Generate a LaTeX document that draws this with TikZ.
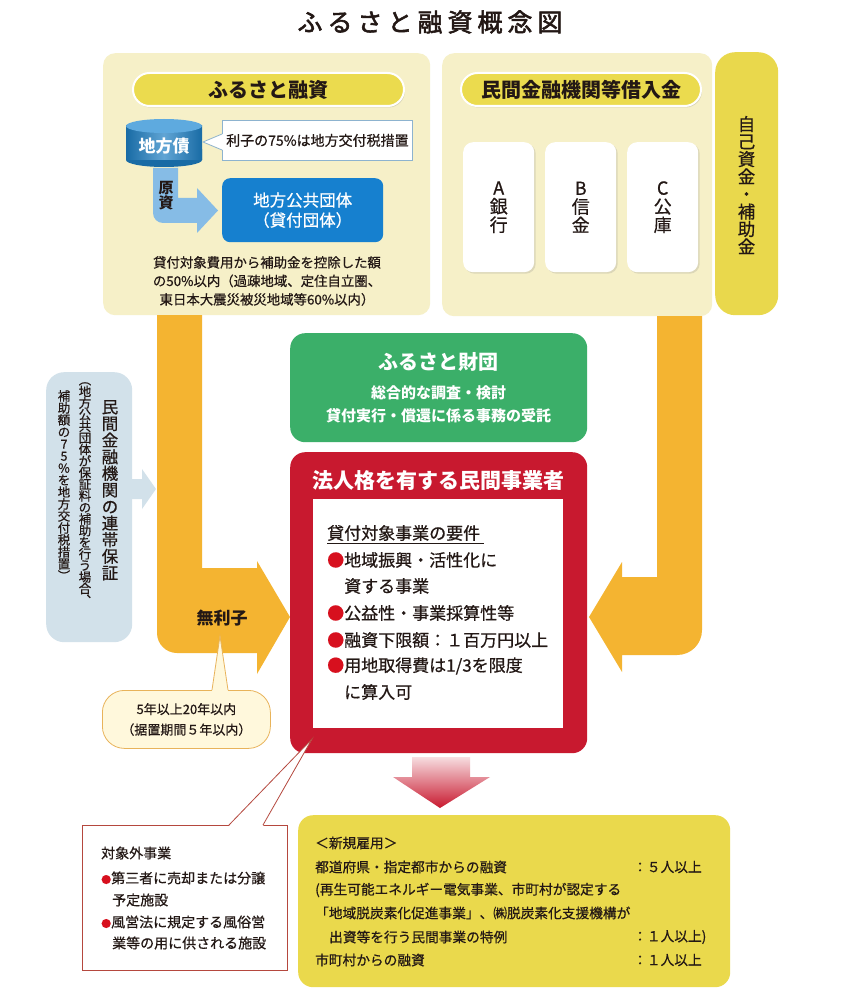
\documentclass[tikz,border=0pt]{standalone}
\usepackage{fontspec}
\setmainfont{Noto Sans CJK JP}
\newfontfamily\jpmed[FakeBold=0.6]{Noto Sans CJK JP}
\newfontfamily\jptitle[FakeBold=2.2,LetterSpace=20]{Noto Sans CJK JP}
\usetikzlibrary{shadows}
\definecolor{ink}{HTML}{231815}
\definecolor{cream}{HTML}{F6F0C8}
\definecolor{pillY}{HTML}{EBDB4E}
\definecolor{stripY}{HTML}{E9D84C}
\definecolor{orangeA}{HTML}{F4B431}
\definecolor{greenB}{HTML}{3BAF69}
\definecolor{redB}{HTML}{C8192F}
\definecolor{blueB}{HTML}{1680CF}
\definecolor{lblue}{HTML}{86BCE6}
\definecolor{cylB}{HTML}{1D7EC2}
\definecolor{cylT}{HTML}{5EAADF}
\definecolor{gbox}{HTML}{D2E1EA}
\definecolor{bottomY}{HTML}{EAD94C}
\definecolor{callY}{HTML}{FFF8DC}
\definecolor{callYb}{HTML}{E8B35A}
\definecolor{callR}{HTML}{B5483E}
\definecolor{callB}{HTML}{8DB3CF}
\definecolor{bullet}{HTML}{D7101E}
\newcommand\fsz[2]{\fontsize{#1}{#2}\selectfont}
\tikzset{
  txt/.style={inner sep=0pt, align=center, text=ink},
  panel/.style={anchor=north west, inner sep=0pt, rounded corners=#1},
  pill/.style={anchor=north west, inner sep=0pt, fill=pillY, draw=white, line width=2pt,
    rounded corners=16.5pt, drop shadow={opacity=0.25, shadow xshift=1pt, shadow yshift=-1.5pt},
    text=ink, font=\fsz{20}{24}\bfseries},
  bank/.style={anchor=north west, inner sep=0pt, fill=white, rounded corners=10pt,
    minimum width=71pt, minimum height=130pt,
    drop shadow={opacity=0.22, shadow xshift=1.5pt, shadow yshift=-1.5pt},
    align=center, text=ink, font=\jpmed\fsz{18}{18.5}},
}
\begin{document}
\begin{tikzpicture}[x=1pt,y=-1pt]
\useasboundingbox (0,0) rectangle (855,1008);
\fill[white] (0,0) rectangle (855,1008);

% title
\node[txt, font=\jptitle\fsz{25}{30}] (title) at (430,22) {ふるさと融資概念図};

% top panels
\node[panel=12pt, fill=cream, minimum width=327pt, minimum height=262pt] (lpanel) at (103,53) {};
\node[panel=12pt, fill=cream, minimum width=270pt, minimum height=263pt] (rpanel) at (442,53) {};
\node[panel=20pt, fill=stripY, minimum width=63pt, minimum height=263pt] (strip) at (715,52) {};
\node[txt, font=\jpmed\fsz{17.5}{17.5}] (jiko) at (746.5,185) {自\\己\\資\\金\\・\\補\\助\\金};

\node[pill, minimum width=271pt, minimum height=33pt] (pillL) at (132,72) {ふるさと融資};
\node[pill, minimum width=240pt, minimum height=33pt] (pillR) at (460,72) {民間金融機関等借入金};

% cylinder
\shade[left color=cylB!85!black, right color=cylB!85!black, middle color=cylB!70!white] (126,126) rectangle (202,160);
\fill[cylB!85!black] (164,160) ellipse [x radius=38pt, y radius=7pt];
\shade[left color=cylB!85!black, right color=cylB!85!black, middle color=cylB!70!white] (126,150) rectangle (202,160);
\fill[cylT] (164,126) ellipse [x radius=38pt, y radius=7pt];
\node[txt, text=white, font=\fsz{17}{20}\bfseries] (chihosai) at (164,146) {地方債};

% callout riko
\node[anchor=north west, inner sep=0pt, fill=white, draw=callB, line width=0.8pt,
  minimum width=190pt, minimum height=40pt, text=ink, font=\jpmed\fsz{14}{16}] (riko) at (222,120) {利子の75\%は地方交付税措置};
\fill[white] (223,134) -- (203,142) -- (223,150) -- cycle;
\draw[callB, line width=0.8pt] (222,134) -- (203,142) -- (222,150);

% light blue bent arrow
\fill[lblue] (153,168) -- (178,168) -- (178,198) -- (197,198) -- (197,188) -- (218,210.5)
  -- (197,233) -- (197,223) -- (163,223) .. controls (157.5,223) and (153,218.5) .. (153,213) -- cycle;
\node[txt, font=\fsz{15}{15}\bfseries] (genshi) at (166,196) {原\\資};

% blue box
\node[panel=8pt, fill=blueB, minimum width=161pt, minimum height=64pt, align=center,
  text=white, font=\jpmed\fsz{16.5}{20}] (dantai) at (222,178) {地方公共団体\\（貸付団体）};

\node[txt, font=\jpmed\fsz{13.4}{18.5}] (joken) at (267,281) {貸付対象費用から補助金を控除した額\\の50\%以内（過疎地域、定住自立圏、\\東日本大震災被災地域等60\%以内）};

% banks
\node[bank] (bankA) at (463,142) {A\\銀\\行};
\node[bank] (bankB) at (545,142) {B\\信\\金};
\node[bank] (bankC) at (627,142) {C\\公\\庫};

% orange arrows
\fill[orangeA] (157,315) -- (202,315) -- (202,568) -- (257,568) -- (257,561) -- (290,617)
  -- (257,674) -- (257,653) -- (177,653) .. controls (166,653) and (157,644) .. (157,633) -- cycle;
\fill[orangeA] (657,316) -- (702,316) -- (702,630) .. controls (702,644) and (691,655) .. (677,655)
  -- (622,655) -- (622,672) -- (589,617) -- (622,562) -- (622,577) -- (657,577) -- cycle;
\node[txt, font=\fsz{17}{20}\bfseries] (murishi) at (222,618) {無利子};

% guarantee box
\node[panel=18pt, fill=gbox, minimum width=86pt, minimum height=270pt] (hosho) at (46,372) {};
\node[txt, anchor=north, font=\jpmed\fsz{16.5}{16.6}] (hoshoA) at (110,400) {民\\間\\金\\融\\機\\関\\の\\連\\帯\\保\\証};
\node[txt, anchor=north, font=\jpmed\fsz{12.5}{11.6}] (hoshoB) at (85,382) {︵\\地\\方\\公\\共\\団\\体\\が\\保\\証\\料\\の\\補\\助\\を\\行\\う\\場\\合\\︑};
\node[txt, anchor=north, font=\jpmed\fsz{12.5}{12}] (hoshoC) at (64,390) {補\\助\\額\\の\\7\\5\\\%\\を\\地\\方\\交\\付\\税\\措\\置\\︶};
\fill[gbox] (131,479) -- (142,479) -- (142,469) -- (156,489) -- (142,509) -- (142,499) -- (131,499) -- cycle;

% green box
\node[panel=15pt, fill=greenB, minimum width=297pt, minimum height=109pt] (zaidan) at (290,333) {};
\node[txt, text=white, font=\fsz{20}{24}\bfseries] (zaidanT) at (438.5,362) {ふるさと財団};
\node[txt, text=white, font=\fsz{15}{23}\bfseries] (zaidanS) at (438.5,404) {総合的な調査・検討\\貸付実行・償還に係る事務の受託};

% red box
\node[panel=15pt, fill=redB, minimum width=297pt, minimum height=301pt] (jigyo) at (290,452) {};
\node[txt, text=white, font=\fsz{21}{24}\bfseries] (jigyoT) at (438.5,481) {法人格を有する民間事業者};
\node[anchor=north west, inner sep=0pt, fill=white, minimum width=250pt, minimum height=229pt] (inner) at (313,499) {};
\node[txt, anchor=west, font=\jpmed\fsz{17}{20}] (yoken) at (327,533) {貸付対象事業の要件};
\draw[ink, line width=1pt] (327,543) -- (484,543);
\node[txt, anchor=west, font=\jpmed\fsz{17}{20}] (y1) at (327,560) {\textcolor{bullet}{●}地域振興・活性化に};
\node[txt, anchor=west, font=\jpmed\fsz{17}{20}] (y1b) at (344,586) {資する事業};
\node[txt, anchor=west, font=\jpmed\fsz{17}{20}] (y2) at (327,613) {\textcolor{bullet}{●}公益性・事業採算性等};
\node[txt, anchor=west, font=\jpmed\fsz{17}{20}] (y3) at (327,640) {\textcolor{bullet}{●}融資下限額：１百万円以上};
\node[txt, anchor=west, font=\jpmed\fsz{17}{20}] (y4) at (327,666) {\textcolor{bullet}{●}用地取得費は1/3を限度};
\node[txt, anchor=west, font=\jpmed\fsz{17}{20}] (y4b) at (344,692) {に算入可};

% 5-year callout
\node[anchor=north west, inner sep=0pt, fill=callY, draw=callYb, line width=0.8pt, rounded corners=22pt,
  minimum width=168pt, minimum height=58pt, align=center, text=ink, font=\jpmed\fsz{13}{20.5}] (kikan) at (102,690) {5年以上20年以内\\（据置期間５年以内）};
\fill[callY] (212,691.5) -- (220,636) -- (228,691.5) -- cycle;
\draw[callYb, line width=0.8pt] (212,690) -- (220,636) -- (228,690);

% red down arrow
\shade[top color=redB!15!white, bottom color=redB, shading angle=0]
  (412,757) -- (470,757) -- (470,777) -- (490,777) -- (440,808) -- (393,777) -- (412,777) -- cycle;

% bottom yellow box
\node[panel=15pt, fill=bottomY, minimum width=432pt, minimum height=172pt] (koyo) at (298,815) {};
\begin{scope}[every node/.style={txt, anchor=west, font=\jpmed\fsz{13.7}{16}}]
\node (k0) at (315,843) {＜新規雇用＞};
\node (k1) at (315,867) {都道府県・指定都市からの融資};
\node (k1r) at (633,867) {：５人以上};
\node (k2) at (315,890) {(再生可能エネルギー電気事業、市町村が認定する};
\node (k3) at (315,913) {「地域脱炭素化促進事業」、㈱脱炭素化支援機構が};
\node (k4) at (329,937) {出資等を行う民間事業の特例};
\node (k4r) at (633,937) {：１人以上)};
\node (k5) at (315,960) {市町村からの融資};
\node (k5r) at (633,960) {：１人以上};
\end{scope}

% excluded callout
\node[anchor=north west, inner sep=0pt, fill=white, draw=callR, line width=0.8pt,
  minimum width=205pt, minimum height=145pt] (taisho) at (82,825) {};
\fill[white] (229,826) -- (312,739) -- (263,826) -- cycle;
\draw[callR, line width=0.8pt] (229,825) -- (312,739) -- (263,825);
\begin{scope}[every node/.style={txt, anchor=west, font=\jpmed\fsz{14}{16}}]
\node (t0) at (101,853) {対象外事業};
\node (t1) at (101,878) {\textcolor{bullet}{\fsz{10}{16}●}第三者に売却または分譲};
\node (t1b) at (112,900) {予定施設};
\node (t2) at (101,922) {\textcolor{bullet}{\fsz{10}{16}●}風営法に規定する風俗営};
\node (t2b) at (112,943) {業等の用に供される施設};
\end{scope}
\end{tikzpicture}
\end{document}
